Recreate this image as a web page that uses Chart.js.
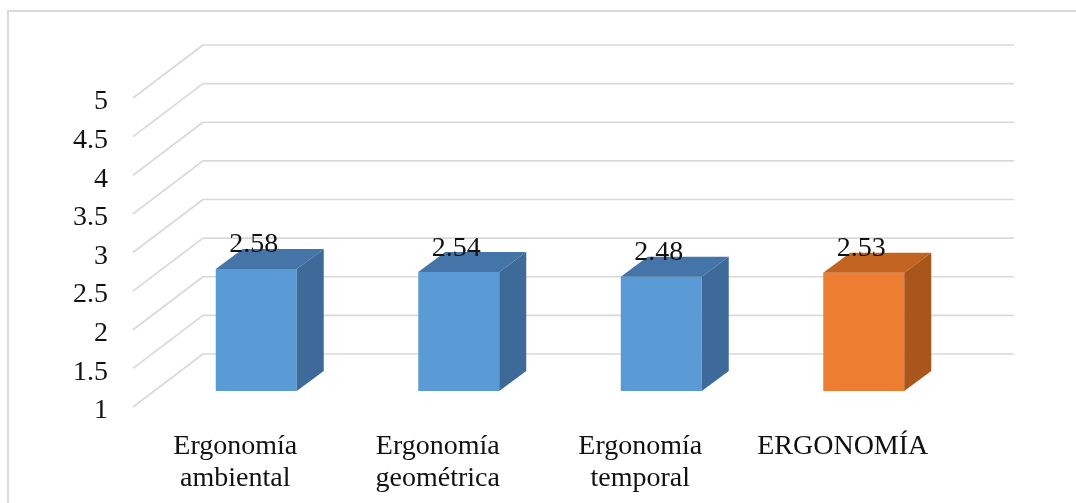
<!DOCTYPE html>
<html>
<head>
<meta charset="utf-8">
<script src="https://cdn.jsdelivr.net/npm/chart.js@4/dist/chart.umd.min.js"></script>
<style>
  html, body { margin: 0; padding: 0; background: #fff; }
  canvas { display: block; }
</style>
</head>
<body>
<canvas id="chart" width="1076" height="503"></canvas>
<script>
// Data
const categories = [["Ergonomía", "ambiental"], ["Ergonomía", "geométrica"], ["Ergonomía", "temporal"], ["ERGONOMÍA"]];
const values = [2.58, 2.54, 2.48, 2.53];
const yTicks = [1, 1.5, 2, 2.5, 3, 3.5, 4, 4.5, 5];

// Face colours of each box (front, top, side)
const frontColors = ["#5b9bd5", "#5b9bd5", "#5b9bd5", "#ed7d31"];
const topColors = ["#4574a8", "#4574a8", "#4574a8", "#c2631f"];
const sideColors = ["#3d6a99", "#3d6a99", "#3d6a99", "#a9561c"];

// Perspective offsets of the back wall and of the boxes
const WALL_DX = 70, WALL_DY = 53;
const BAR_OFF_X = 21, BAR_OFF_Y = 16;
const BAR_DX = 27, BAR_DY = 20;

const FONT = "'Liberation Serif', 'Times New Roman', serif";
const GRID = "#d9d9d9";

const threeD = {
  id: "threeD",
  beforeDraw(chart) {
    const ctx = chart.ctx;
    ctx.save();
    ctx.fillStyle = "#fff";
    ctx.fillRect(0, 0, chart.width, chart.height);
    ctx.strokeStyle = GRID;
    ctx.lineWidth = 2;
    ctx.strokeRect(8, 11, chart.width + 40, chart.height + 40);
    ctx.restore();
  },
  beforeDatasetsDraw(chart) {
    const { ctx, chartArea: a, scales: { y } } = chart;
    // side wall diagonals + back wall gridlines
    ctx.save();
    ctx.strokeStyle = GRID;
    ctx.lineWidth = 1.7;
    ctx.lineJoin = "round";
    yTicks.forEach(v => {
      const py = y.getPixelForValue(v);
      ctx.beginPath();
      ctx.moveTo(a.left - 1, py);
      ctx.lineTo(a.left - 1 + WALL_DX, py - WALL_DY);
      ctx.lineTo(a.right + WALL_DX, py - WALL_DY);
      ctx.stroke();
    });
    ctx.restore();
    // boxes sit part-way into the depth of the plot
    ctx.save();
    ctx.translate(BAR_OFF_X, -BAR_OFF_Y);
  },
  afterDatasetsDraw(chart) {
    const ctx = chart.ctx;
    const yScale = chart.scales.y;
    const floor = yScale.getPixelForValue(yTicks[0]);
    const meta = chart.getDatasetMeta(0);
    meta.data.forEach((bar, i) => {
      const { x, y, width } = bar.getProps(["x", "y", "width"], true);
      const l = x - width / 2, r = x + width / 2;
      // top face
      ctx.fillStyle = topColors[i];
      ctx.beginPath();
      ctx.moveTo(l, y);
      ctx.lineTo(r, y);
      ctx.lineTo(r + BAR_DX, y - BAR_DY);
      ctx.lineTo(l + BAR_DX, y - BAR_DY);
      ctx.closePath();
      ctx.fill();
      // side face
      ctx.fillStyle = sideColors[i];
      ctx.beginPath();
      ctx.moveTo(r, y);
      ctx.lineTo(r + BAR_DX, y - BAR_DY);
      ctx.lineTo(r + BAR_DX, floor - BAR_DY);
      ctx.lineTo(r, floor);
      ctx.closePath();
      ctx.fill();
    });
    ctx.restore();
    // value labels
    ctx.save();
    ctx.fillStyle = "#111";
    ctx.font = "28px " + FONT;
    ctx.textAlign = "center";
    ctx.textBaseline = "alphabetic";
    meta.data.forEach((bar, i) => {
      const { x, y } = bar.getProps(["x", "y"], true);
      ctx.fillText(values[i].toFixed(2), x + BAR_OFF_X - 2.5, y - BAR_OFF_Y - 16.5);
    });
    ctx.restore();
  }
};

new Chart(document.getElementById("chart"), {
  type: "bar",
  data: {
    labels: categories,
    datasets: [{
      data: values,
      base: yTicks[0],
      clip: false,
      backgroundColor: frontColors,
      borderWidth: 0,
      barPercentage: 0.4,
      categoryPercentage: 1
    }]
  },
  options: {
    responsive: false,
    animation: false,
    events: [],
    layout: { padding: { top: 98, right: 132, left: 0, bottom: 0 } },
    plugins: { legend: { display: false }, tooltip: { enabled: false } },
    scales: {
      x: {
        grid: { display: false, drawTicks: false },
        border: { display: false },
        ticks: {
          color: "#111",
          padding: 24,
          maxRotation: 0,
          autoSkip: false,
          font: { family: FONT, size: 28, lineHeight: 1.14 }
        },
        afterFit(scale) { scale.height = 96; }
      },
      y: {
        min: 1,
        max: 5,
        grid: { display: false, drawTicks: false },
        border: { display: false },
        afterBuildTicks(scale) { scale.ticks = yTicks.map(v => ({ value: v })); },
        ticks: {
          color: "#111",
          padding: 26,
          labelOffset: 4,
          font: { family: FONT, size: 28 },
          callback: value => String(value)
        },
        afterFit(scale) { scale.width = 134; }
      }
    }
  },
  plugins: [threeD]
});
</script>
</body>
</html>
